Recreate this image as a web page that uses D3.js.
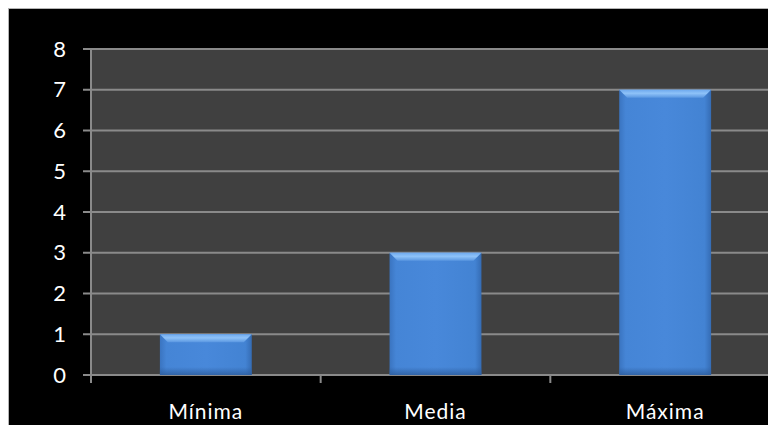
<!DOCTYPE html>
<html>
<head>
<meta charset="utf-8">
<script src="https://cdn.jsdelivr.net/npm/d3@7"></script>
<style>
  html, body { margin: 0; padding: 0; background: #ffffff; }
  svg { display: block; }
</style>
</head>
<body>
<svg id="chart" width="768" height="425"></svg>
<script>
// Chart data
const categories = ["Mínima", "Media", "Máxima"];
const values = [1, 3, 7];
const yTicks = [0, 1, 2, 3, 4, 5, 6, 7, 8];

const W = 768, H = 425;
const svg = d3.select("#chart");

// Frame: light outline and black chart area
svg.append("rect").attr("x", 0).attr("y", 0).attr("width", W).attr("height", H).attr("fill", "#ffffff");
svg.append("rect").attr("x", 8.5).attr("y", 8.5).attr("width", W).attr("height", H)
  .attr("fill", "#000000").attr("stroke", "#b4b4b4").attr("stroke-width", 1);

const plot = { left: 91, top: 49, right: 780, bottom: 375 };

const x = d3.scaleBand().domain(categories).range([plot.left, plot.right])
  .paddingInner(0.6).paddingOuter(0.3);
const y = d3.scaleLinear().domain([0, 8]).range([plot.bottom, plot.top]);

// Plot background
svg.append("rect").attr("x", plot.left).attr("y", plot.top)
  .attr("width", plot.right - plot.left).attr("height", plot.bottom - plot.top)
  .attr("fill", "#404040");

// Gridlines (extend left as tick marks)
svg.append("g").selectAll("line").data(yTicks).join("line")
  .attr("x1", plot.left - 8).attr("x2", plot.right)
  .attr("y1", d => y(d)).attr("y2", d => y(d))
  .attr("stroke", "#8a8a8a").attr("stroke-width", 2);

// Vertical axis line
svg.append("line").attr("x1", plot.left).attr("x2", plot.left)
  .attr("y1", plot.top).attr("y2", plot.bottom + 8)
  .attr("stroke", "#8a8a8a").attr("stroke-width", 2);

// Category separator ticks on the x axis
const step = x.step();
const sepX = d3.range(categories.length).map(i => plot.left + i * step);
svg.append("g").selectAll("line").data(sepX.slice(1)).join("line")
  .attr("x1", d => d).attr("x2", d => d)
  .attr("y1", plot.bottom).attr("y2", plot.bottom + 8)
  .attr("stroke", "#8a8a8a").attr("stroke-width", 2);

// Gradients for bevelled bars
const defs = svg.append("defs");
const body = defs.append("linearGradient").attr("id", "barBody").attr("x1", 0).attr("x2", 1).attr("y1", 0).attr("y2", 0);
body.append("stop").attr("offset", "0%").attr("stop-color", "#3a74c0");
body.append("stop").attr("offset", "7%").attr("stop-color", "#4585d6");
body.append("stop").attr("offset", "50%").attr("stop-color", "#4888da");
body.append("stop").attr("offset", "93%").attr("stop-color", "#4383d3");
body.append("stop").attr("offset", "100%").attr("stop-color", "#356cb4");

const bottomShade = defs.append("linearGradient").attr("id", "barBottom").attr("x1", 0).attr("x2", 0).attr("y1", 0).attr("y2", 1);
bottomShade.append("stop").attr("offset", "0%").attr("stop-color", "#2c5c9c").attr("stop-opacity", 0);
bottomShade.append("stop").attr("offset", "100%").attr("stop-color", "#2c5c9c").attr("stop-opacity", 0.8);

const topBev = defs.append("linearGradient").attr("id", "barTop").attr("x1", 0).attr("x2", 0).attr("y1", 0).attr("y2", 1);
topBev.append("stop").attr("offset", "0%").attr("stop-color", "#6ea9ee");
topBev.append("stop").attr("offset", "45%").attr("stop-color", "#8ec2f8");
topBev.append("stop").attr("offset", "100%").attr("stop-color", "#5a97e1");

const bev = 8;
const bars = svg.append("g").selectAll("g").data(categories).join("g");

bars.each(function (c, i) {
  const g = d3.select(this);
  const x0 = x(c), x1 = x(c) + x.bandwidth();
  const yt = y(values[i]), yb = y(0);
  // main body
  g.append("rect").attr("x", x0).attr("y", yt).attr("width", x1 - x0).attr("height", yb - yt)
    .attr("fill", "url(#barBody)");
  // soft bottom shading
  g.append("rect").attr("x", x0).attr("y", yb - bev).attr("width", x1 - x0).attr("height", bev)
    .attr("fill", "url(#barBottom)");
  // top bevel highlight
  g.append("polygon").attr("points", [[x0, yt], [x1, yt], [x1 - bev, yt + bev], [x0 + bev, yt + bev]].join(" "))
    .attr("fill", "url(#barTop)");
});

// Y axis labels
svg.append("g").selectAll("text").data(yTicks).join("text")
  .attr("x", 66).attr("y", d => y(d) + 2)
  .attr("text-anchor", "end").attr("dominant-baseline", "middle")
  .attr("font-family", "Lato, 'Open Sans', sans-serif").attr("font-size", 22)
  .attr("fill", "#ffffff").text(d => d);

// X axis labels
svg.append("g").selectAll("text").data(categories).join("text")
  .attr("x", d => x(d) + x.bandwidth() / 2).attr("y", 419)
  .attr("text-anchor", "middle")
  .attr("font-family", "Lato, 'Open Sans', sans-serif").attr("font-size", 21)
  .attr("letter-spacing", 1)
  .attr("fill", "#ffffff").text(d => d);
</script>
</body>
</html>
